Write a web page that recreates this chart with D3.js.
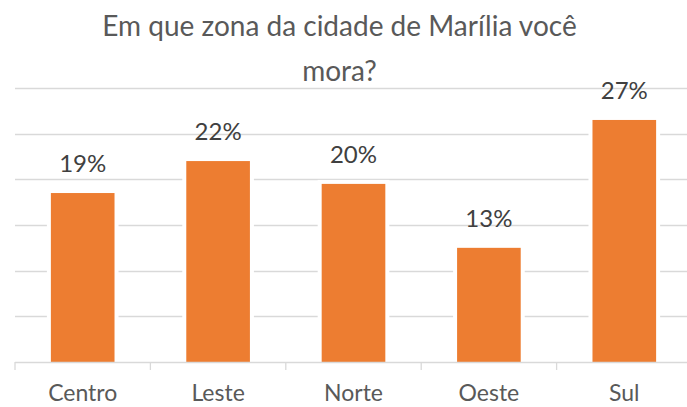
<!DOCTYPE html>
<html>
<head>
<meta charset="utf-8">
<script src="https://cdn.jsdelivr.net/npm/d3@7"></script>
<style>
  html, body { margin: 0; padding: 0; background: #fff; }
  svg { display: block; font-family: Lato, "Open Sans", sans-serif; }
</style>
</head>
<body>
<svg id="chart" width="687" height="407"></svg>
<script>
  const width = 687;
  const height = 407;
  const margin = { top: 88, right: -5, bottom: 45, left: 15 };

  const titleLines = ["Em que zona da cidade de Marília você", "mora?"];
  const zones = ["Centro", "Leste", "Norte", "Oeste", "Sul"];
  const counts = [37, 44, 39, 25, 53];
  const yTicks = [10, 20, 30, 40, 50, 60];

  const barColor = "#ed7d31";
  const gridColor = "#d9d9d9";

  const total = d3.sum(counts);
  const data = zones.map((zone, i) => ({ zone, count: counts[i] }));

  const svg = d3.select("#chart");

  const x = d3
    .scaleBand()
    .domain(zones)
    .range([margin.left, width - margin.right])
    .paddingInner(0.53)
    .paddingOuter(0.265);

  const y = d3
    .scaleLinear()
    .domain([0, 60])
    .range([height - margin.bottom, margin.top]);

  // title
  svg
    .append("text")
    .attr("text-anchor", "middle")
    .attr("fill", "#595959")
    .attr("font-size", 28)
    .selectAll("tspan")
    .data(titleLines)
    .join("tspan")
    .attr("x", width / 2 - 4)
    .attr("y", (d, i) => 36 + i * 45)
    .text((d) => d);

  // gridlines
  svg
    .append("g")
    .selectAll("line")
    .data(yTicks)
    .join("line")
    .attr("x1", margin.left)
    .attr("x2", width)
    .attr("y1", (d) => Math.round(y(d)) + 0.5)
    .attr("y2", (d) => Math.round(y(d)) + 0.5)
    .attr("stroke", gridColor)
    .attr("stroke-width", 1.3);

  // bars (white halo breaks the gridlines like the original)
  svg
    .append("g")
    .selectAll("rect")
    .data(data)
    .join("rect")
    .attr("x", (d) => x(d.zone))
    .attr("y", (d) => y(d.count))
    .attr("width", x.bandwidth())
    .attr("height", (d) => y(0) - y(d.count))
    .attr("fill", barColor)
    .attr("stroke", "#fff")
    .attr("stroke-width", 8)
    .attr("paint-order", "stroke");

  // x axis line and ticks at band boundaries
  const step = x.step();
  const x0 = x.range()[0];
  const axis = svg.append("g").attr("stroke", gridColor).attr("stroke-width", 1.3);
  axis
    .append("line")
    .attr("x1", margin.left)
    .attr("x2", width)
    .attr("y1", y(0) + 0.5)
    .attr("y2", y(0) + 0.5);
  axis
    .selectAll("line.tick")
    .data(d3.range(zones.length + 1))
    .join("line")
    .attr("class", "tick")
    .attr("x1", (i) => x0 + i * step)
    .attr("x2", (i) => x0 + i * step)
    .attr("y1", y(0))
    .attr("y2", y(0) + 8);

  // data labels
  svg
    .append("g")
    .selectAll("text")
    .data(data)
    .join("text")
    .attr("x", (d) => x(d.zone) + x.bandwidth() / 2)
    .attr("y", (d) => y(d.count) - 21)
    .attr("text-anchor", "middle")
    .attr("fill", "#404040")
    .attr("font-size", 24)
    .text((d) => d3.format(".0%")(d.count / total));

  // category labels
  svg
    .append("g")
    .selectAll("text")
    .data(zones)
    .join("text")
    .attr("x", (d) => x(d) + x.bandwidth() / 2)
    .attr("y", 401)
    .attr("text-anchor", "middle")
    .attr("fill", "#595959")
    .attr("font-size", 23)
    .text((d) => d);
</script>
</body>
</html>
